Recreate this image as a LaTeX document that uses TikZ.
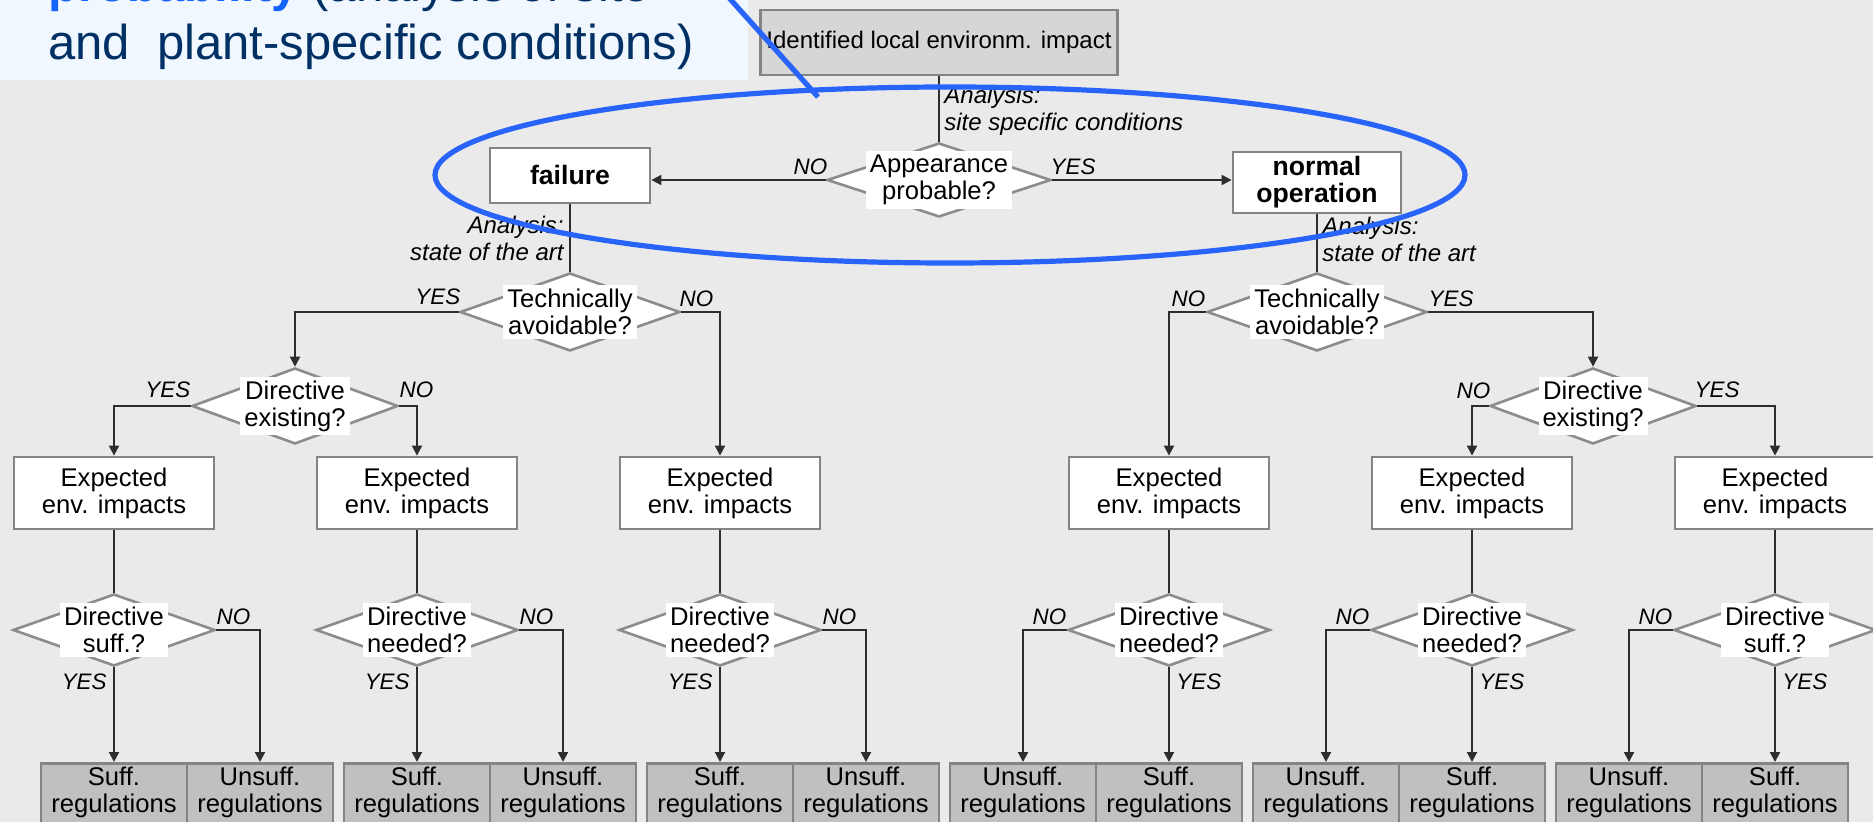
\documentclass[tikz,border=0pt]{standalone}
\usepackage{fontspec}
\setmainfont{Liberation Sans}
\usetikzlibrary{shapes.geometric,arrows.meta,calc}
\definecolor{bgc}{RGB}{234,234,234}
\definecolor{boxline}{RGB}{132,132,132}
\definecolor{dialine}{RGB}{140,140,140}
\definecolor{connc}{RGB}{45,45,45}
\definecolor{topfill}{RGB}{214,214,214}
\definecolor{regfill}{RGB}{192,192,192}
\definecolor{callfill}{RGB}{240,247,255}
\definecolor{callnavy}{RGB}{0,48,100}
\definecolor{callblue}{RGB}{20,100,255}
\definecolor{ringblue}{RGB}{40,100,250}
\begin{document}
\begin{tikzpicture}[x=0.5pt,y=-0.5pt,
  txt/.style={font=\fontsize{12.8}{13.5}\selectfont},
  box/.style={txt, draw=boxline, line width=1.4pt, fill=white, align=center, inner sep=0pt},
  ebox/.style={box, minimum width=100pt, minimum height=36pt},
  regbox/.style={box, fill=regfill, minimum width=73pt, anchor=north, inner xsep=0pt, inner ysep=2pt},
  boldbox/.style={box, font=\fontsize{13.3}{13.5}\selectfont\bfseries},
  dia/.style={shape=diamond, draw=dialine, line width=1.3pt, fill=white, inner sep=0pt},
  dtext/.style={txt, fill=white, align=center, inner xsep=2pt, inner ysep=2pt},
  lab/.style={font=\fontsize{11.2}{12}\selectfont\itshape, inner sep=0pt},
  ana/.style={font=\fontsize{12}{13.5}\selectfont\itshape, inner sep=0pt},
  calltext/.style={anchor=base west, inner sep=0pt, font=\fontsize{24.5}{28.5}\selectfont, text=callnavy},
  conn/.style={draw=connc, line width=1pt},
  arr/.style={conn, -{Triangle[length=5pt,width=5pt]}},
  ring/.style={draw=ringblue, line width=2.6pt}
]
\useasboundingbox (0,0) rectangle (1873,822);
\clip (0,0) rectangle (1873,822);
\fill[bgc] (0,0) rectangle (1873,822);

% callout in the upper left corner
\fill[callfill] (0,0) rectangle (748,80);
\node[calltext] (call1) at (48,2)
  {\textcolor{callblue}{\textbf{probability}} (analysis of site-};
\node[calltext] (call2) at (48,60)
  {and\ \ plant-specific conditions)};

% first level
\node[box, fill=topfill, minimum width=178.5pt, minimum height=32.5pt, font=\fontsize{12}{13.5}\selectfont] (top) at (939,42.5)
  {Identified local environm. impact};
\node[dia, minimum width=112pt, minimum height=37pt] (app) at (939,180) {};
\node[dtext] (appt) at (app) {Appearance\\probable?};
\node[boldbox, minimum width=80pt, minimum height=27.5pt] (fail) at (570,175.5) {failure};
\node[boldbox, minimum width=84pt, minimum height=30.5pt] (norm) at (1317,182.5) {normal\\operation};

\node[ana, anchor=north west, align=left] (an0) at (944,86) {Analysis:\\site specific conditions};
\node[ana, anchor=north east, align=right] (an1) at (564,216) {Analysis:\\state of the art};
\node[ana, anchor=north west, align=left] (an2) at (1322,217) {Analysis:\\state of the art};

% technical avoidability
\node[dia, minimum width=110pt, minimum height=39pt] (tl) at (570,312) {};
\node[dtext] (tlt) at (tl) {Technically\\avoidable?};
\node[dia, minimum width=110pt, minimum height=39pt] (tr) at (1317,312) {};
\node[dtext] (trt) at (tr) {Technically\\avoidable?};

% existing directives
\node[dia, minimum width=103pt, minimum height=38pt] (dl) at (295,406) {};
\node[dtext] (dlt) at (dl) {Directive\\existing?};
\node[dia, minimum width=103pt, minimum height=38pt] (dr) at (1593,406) {};
\node[dtext] (drt) at (dr) {Directive\\existing?};

% expected impacts
\node[ebox] (e1) at (114,493) {Expected\\env. impacts};
\node[ebox] (e2) at (417,493) {Expected\\env. impacts};
\node[ebox] (e3) at (720,493) {Expected\\env. impacts};
\node[ebox] (e4) at (1169,493) {Expected\\env. impacts};
\node[ebox] (e5) at (1472,493) {Expected\\env. impacts};
\node[ebox] (e6) at (1775,493) {Expected\\env. impacts};

% final questions
\foreach \i/\x/\t in {1/114/suff.?, 2/417/needed?, 3/720/needed?, 4/1169/needed?, 5/1472/needed?, 6/1775/suff.?}{
  \node[dia, minimum width=101pt, minimum height=36pt] (q\i) at (\x,630) {};
  \node[dtext] (q\i t) at (q\i) {Directive\\\t};
}

% regulation outcomes
\node[regbox] (r1a) at (114,762) {Suff.\\regulations\rule[-14pt]{0pt}{14pt}};
\node[regbox] (r1b) at (260,762) {Unsuff.\\regulations\rule[-14pt]{0pt}{14pt}};
\node[regbox] (r2a) at (417,762) {Suff.\\regulations\rule[-14pt]{0pt}{14pt}};
\node[regbox] (r2b) at (563,762) {Unsuff.\\regulations\rule[-14pt]{0pt}{14pt}};
\node[regbox] (r3a) at (720,762) {Suff.\\regulations\rule[-14pt]{0pt}{14pt}};
\node[regbox] (r3b) at (866,762) {Unsuff.\\regulations\rule[-14pt]{0pt}{14pt}};
\node[regbox] (r4a) at (1023,762) {Unsuff.\\regulations\rule[-14pt]{0pt}{14pt}};
\node[regbox] (r4b) at (1169,762) {Suff.\\regulations\rule[-14pt]{0pt}{14pt}};
\node[regbox] (r5a) at (1326,762) {Unsuff.\\regulations\rule[-14pt]{0pt}{14pt}};
\node[regbox] (r5b) at (1472,762) {Suff.\\regulations\rule[-14pt]{0pt}{14pt}};
\node[regbox] (r6a) at (1629,762) {Unsuff.\\regulations\rule[-14pt]{0pt}{14pt}};
\node[regbox] (r6b) at (1775,762) {Suff.\\regulations\rule[-14pt]{0pt}{14pt}};

% connectors
\draw[conn] (top.south) -- (app.north);
\draw[arr] (app.west) -- (app.west -| fail.east);
\draw[arr] (app.east) -- (app.east -| norm.west);
\draw[conn] (fail.south) -- (tl.north);
\draw[conn] (norm.south) -- (tr.north);
\draw[arr] (tl.west) -| (dl.north);
\draw[arr] (tl.east) -| (e3.north);
\draw[arr] (tr.west) -| (e4.north);
\draw[arr] (tr.east) -| (dr.north);
\draw[arr] (dl.west) -| (e1.north);
\draw[arr] (dl.east) -| (e2.north);
\draw[arr] (dr.west) -| (e5.north);
\draw[arr] (dr.east) -| (e6.north);
\foreach \i in {1,...,6}{\draw[conn] (e\i.south) -- (q\i.north);}
\foreach \i in {1,2,3}{
  \draw[arr] (q\i.south) -- (q\i.south |- r\i a.north);
  \draw[arr] (q\i.east) -| (r\i b.north);
}
\foreach \i in {4,5,6}{
  \draw[arr] (q\i.west) -| (r\i a.north);
  \draw[arr] (q\i.south) -- (q\i.south |- r\i b.north);
}

% branch labels
\node[lab, anchor=south east] (lapn) at ($(app.west)+(2,-5)$) {NO};
\node[lab, anchor=south west] (lapy) at ($(app.east)+(-2,-5)$) {YES};
\node[lab, anchor=south east] (ltly) at ($(tl.west)+(2,-7)$) {YES};
\node[lab, anchor=south west] (ltln) at ($(tl.east)+(-2,-5)$) {NO};
\node[lab, anchor=south east] (ltrn) at ($(tr.west)+(0,-5)$) {NO};
\node[lab, anchor=south west] (ltry) at ($(tr.east)+(0,-5)$) {YES};
\node[lab, anchor=south east] (ldly) at ($(dl.west)+(0,-8)$) {YES};
\node[lab, anchor=south west] (ldln) at ($(dl.east)+(0,-8)$) {NO};
\node[lab, anchor=south east] (ldrn) at ($(dr.west)+(2,-7)$) {NO};
\node[lab, anchor=south west] (ldry) at ($(dr.east)+(-3,-8)$) {YES};
\foreach \i in {1,2,3}{
  \node[lab, anchor=south west] (lq\i n) at ($(q\i.east)+(0,-5)$) {NO};
  \node[lab, anchor=north east] (lq\i y) at ($(q\i.south)+(-7,6)$) {YES};
}
\foreach \i in {4,5,6}{
  \node[lab, anchor=south east] (lq\i n) at ($(q\i.west)+(0,-5)$) {NO};
  \node[lab, anchor=north west] (lq\i y) at ($(q\i.south)+(7,6)$) {YES};
}

% highlight ring and pointer
\coordinate (ptr0) at (722,-10);
\coordinate (ptr1) at (818,97);
\draw[ring] (ptr0) -- (ptr1);
\draw[ring] (950,175) ellipse [x radius=515, y radius=88];
\end{tikzpicture}
\end{document}
